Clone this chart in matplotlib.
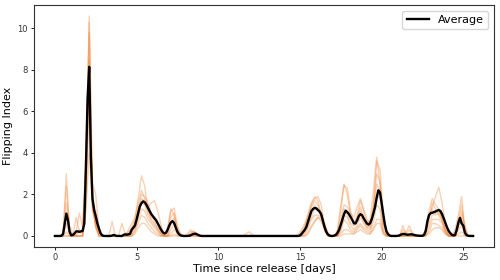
import matplotlib
matplotlib.use("Agg")
import matplotlib.pyplot as plt
import numpy as np

# sampling of the individual runs (every 0.2 days) and of the average (every 0.1 days)
member_days = np.round(np.arange(0.1, 25.6, 0.2), 1)
average_days = np.round(np.arange(0.0, 25.65, 0.1), 1)

member_a = [
    0, 0, 0.1, 3.0, 0.2, 0, 0.1, 0.3, 0.2, 3.5,
    10.6, 2.5, 2.0, 0.3, 0, 0, 0, 0, 0, 0,
    0, 0, 0.1, 0.4, 0.8, 1.8, 2.9, 2.4, 1.2, 0.8,
    0.6, 0.3, 0.1, 0, 0.4, 1.3, 1.0, 0.2, 0, 0,
    0.1, 0.3, 0.1, 0, 0, 0, 0, 0, 0, 0,
    0, 0, 0, 0, 0, 0, 0, 0, 0, 0,
    0, 0, 0, 0, 0, 0, 0, 0, 0, 0,
    0, 0, 0, 0, 0, 0.2, 0.5, 0.9, 1.5, 1.9,
    1.7, 1.0, 0.4, 0.1, 0, 0, 0.2, 1.2, 2.5, 2.0,
    1.0, 0.5, 0.8, 1.2, 0.7, 0.4, 0.5, 1.5, 3.6, 3.2,
    1.0, 0.2, 0, 0, 0, 0, 0.5, 0.1, 0, 0,
    0, 0, 0, 0.3, 1.2, 1.8, 1.5, 1.3, 0.8, 0.3,
    0.1, 0, 0.3, 1.0, 1.9, 0.3, 0, 0,
]
member_b = [
    0, 0, 0, 2.4, 0.3, 0, 0.9, 0.2, 0.3, 3.0,
    10.3, 1.8, 1.2, 0.4, 0, 0, 0, 0.7, 0, 0,
    0, 0, 0.3, 0.6, 0.9, 1.6, 2.2, 1.8, 1.4, 1.6,
    1.7, 1.2, 0.5, 0.1, 0.3, 1.2, 1.35, 0.5, 0.1, 0,
    0, 0.1, 0.25, 0.1, 0, 0, 0, 0, 0, 0,
    0, 0, 0, 0, 0, 0, 0, 0, 0, 0,
    0, 0, 0, 0, 0, 0, 0, 0, 0, 0,
    0, 0, 0, 0, 0, 0.1, 0.4, 1.1, 1.6, 1.8,
    1.9, 1.5, 0.6, 0.1, 0, 0, 0.3, 1.5, 2.45, 2.3,
    1.2, 0.6, 1.0, 1.7, 1.2, 0.6, 0.8, 2.2, 3.8, 2.5,
    0.8, 0.1, 0, 0, 0, 0, 0.1, 0.2, 0.5, 0.1,
    0, 0, 0, 0.2, 0.9, 1.4, 1.9, 2.35, 1.6, 0.6,
    0.1, 0, 0.2, 0.8, 1.5, 0.2, 0, 0,
]
member_c = [
    0, 0, 0, 1.6, 0.5, 0.1, 0.2, 1.1, 0.4, 4.0,
    9.8, 1.5, 0.8, 0.2, 0, 0, 0, 0, 0, 0,
    0.6, 0.1, 0.2, 0.3, 0.6, 1.3, 2.0, 1.9, 1.6, 1.1,
    0.7, 0.4, 0.1, 0, 0.1, 0.9, 1.1, 0.4, 0, 0,
    0, 0.2, 0.2, 0.05, 0, 0, 0, 0, 0, 0,
    0, 0, 0, 0, 0, 0, 0, 0, 0.1, 0.2,
    0.05, 0, 0, 0, 0, 0, 0, 0, 0, 0,
    0, 0, 0, 0, 0.1, 0.3, 0.6, 1.0, 1.4, 1.7,
    1.5, 1.1, 0.5, 0.1, 0, 0, 0.1, 0.8, 1.5, 1.4,
    1.1, 0.9, 1.4, 1.8, 1.3, 0.8, 0.6, 1.4, 3.0, 2.6,
    0.7, 0.1, 0, 0, 0, 0, 0, 0.1, 0.3, 0.1,
    0, 0, 0, 0.1, 0.8, 1.6, 1.3, 1.0, 0.7, 0.3,
    0, 0, 0.1, 0.6, 1.2, 0.5, 0, 0,
]
member_d = [
    0, 0, 0, 1.0, 0.2, 0, 0, 0.2, 0.1, 3.2,
    8.5, 1.2, 0.6, 0.1, 0, 0, 0, 0, 0, 0,
    0, 0, 0, 0.2, 0.7, 1.2, 1.8, 1.7, 1.2, 0.9,
    0.8, 0.6, 0.2, 0, 0, 0.6, 0.9, 0.3, 0, 0,
    0, 0, 0.1, 0, 0, 0, 0, 0, 0, 0,
    0, 0, 0, 0, 0, 0, 0, 0, 0, 0,
    0, 0, 0, 0, 0, 0, 0, 0, 0, 0,
    0, 0, 0, 0, 0, 0.1, 0.3, 0.7, 1.2, 1.5,
    1.3, 0.9, 0.3, 0, 0, 0, 0, 0.5, 1.3, 1.0,
    0.6, 0.5, 0.9, 1.4, 0.9, 0.5, 0.4, 1.3, 2.5, 2.2,
    0.6, 0, 0, 0, 0, 0, 0.3, 0.1, 0.1, 0,
    0, 0, 0, 0.2, 1.0, 1.3, 1.0, 1.1, 0.8, 0.2,
    0, 0, 0, 0.4, 1.0, 0.4, 0, 0,
]
member_e = [
    0, 0, 0, 0.6, 0.1, 0, 0, 0, 0, 2.6,
    8.0, 1.6, 0.4, 0, 0, 0, 0, 0, 0, 0,
    0, 0, 0, 0.1, 0.4, 1.0, 1.6, 1.5, 1.0, 0.7,
    0.5, 0.3, 0.1, 0, 0, 0.3, 0.6, 0.1, 0, 0,
    0, 0, 0.1, 0, 0, 0, 0, 0, 0, 0,
    0, 0, 0, 0, 0, 0, 0, 0, 0, 0,
    0, 0, 0, 0, 0, 0, 0, 0, 0, 0,
    0, 0, 0, 0, 0, 0, 0.2, 0.5, 0.9, 1.3,
    1.3, 1.0, 0.5, 0.1, 0, 0, 0, 0.3, 1.0, 0.9,
    0.5, 0.3, 0.5, 0.9, 0.6, 0.4, 0.3, 1.0, 2.0, 1.8,
    0.3, 0, 0, 0, 0, 0, 0, 0, 0, 0,
    0, 0, 0, 0.1, 0.6, 1.0, 1.1, 1.2, 0.9, 0.3,
    0, 0, 0.1, 0.5, 0.7, 0.2, 0, 0,
]
member_f = [
    0, 0, 0, 0.2, 0, 0, 0, 0, 0, 2.2,
    7.5, 1.3, 0.5, 0, 0, 0, 0, 0, 0, 0,
    0, 0, 0, 0, 0.3, 0.8, 1.3, 1.2, 0.8, 0.6,
    0.4, 0.2, 0, 0, 0, 0.1, 0.3, 0.1, 0, 0,
    0, 0, 0, 0, 0, 0, 0, 0, 0, 0,
    0, 0, 0, 0, 0, 0, 0, 0, 0, 0,
    0, 0, 0, 0, 0, 0, 0, 0, 0, 0,
    0, 0, 0, 0, 0, 0, 0.1, 0.4, 0.8, 1.0,
    1.0, 0.9, 0.6, 0.2, 0, 0, 0, 0.2, 0.8, 0.6,
    0.3, 0.2, 0.4, 0.6, 0.4, 0.3, 0.2, 0.7, 1.5, 1.3,
    0.2, 0, 0, 0, 0, 0, 0, 0, 0, 0,
    0, 0, 0, 0, 0.4, 0.8, 0.8, 0.8, 0.6, 0.2,
    0, 0, 0, 0.3, 0.5, 0.1, 0, 0,
]
member_g = [
    0, 0, 0, 0, 0, 0, 0, 0, 0, 1.5,
    6.5, 2.0, 0.6, 0, 0, 0, 0, 0, 0, 0,
    0, 0, 0, 0, 0.2, 0.6, 1.0, 0.9, 0.6, 0.4,
    0.2, 0.1, 0, 0, 0, 0, 0.1, 0, 0, 0,
    0, 0, 0, 0, 0, 0, 0, 0, 0, 0,
    0, 0, 0, 0, 0, 0, 0, 0, 0, 0,
    0, 0, 0, 0, 0, 0, 0, 0, 0, 0,
    0, 0, 0, 0, 0, 0, 0, 0.2, 0.5, 0.7,
    0.9, 0.8, 0.5, 0.1, 0, 0, 0, 0.1, 0.3, 0.3,
    0.2, 0.1, 0.3, 0.5, 0.3, 0.2, 0.1, 0.4, 0.8, 0.8,
    0.1, 0, 0, 0, 0, 0, 0, 0, 0, 0,
    0, 0, 0, 0, 0.2, 0.6, 0.6, 0.5, 0.4, 0.1,
    0, 0, 0, 0.1, 0.2, 0, 0, 0,
]
member_h = [
    0, 0, 0, 0, 0, 0, 0, 0, 0, 1.2,
    4.0, 1.5, 0.4, 0, 0, 0, 0, 0, 0, 0,
    0, 0, 0, 0, 0.1, 0.4, 0.6, 0.6, 0.4, 0.2,
    0.1, 0, 0, 0, 0, 0, 0, 0, 0, 0,
    0, 0, 0, 0, 0, 0, 0, 0, 0, 0,
    0, 0, 0, 0, 0, 0, 0, 0, 0, 0,
    0, 0, 0, 0, 0, 0, 0, 0, 0, 0,
    0, 0, 0, 0, 0, 0, 0, 0.1, 0.4, 0.7,
    0.9, 0.7, 0.3, 0, 0, 0, 0, 0, 0.1, 0.1,
    0.1, 0.1, 0.2, 0.3, 0.2, 0.1, 0.1, 0.3, 0.6, 0.6,
    0.1, 0, 0, 0, 0, 0, 0, 0, 0, 0,
    0, 0, 0, 0, 0.1, 0.3, 0.4, 0.4, 0.3, 0.1,
    0, 0, 0, 0, 0, 0, 0, 0,
]
members = [member_a, member_b, member_c, member_d,
           member_e, member_f, member_g, member_h]

average = [
    0, 0, 0, 0, 0.01, 0.1, 0.6, 1.08, 0.75, 0.2,
    0.03, 0.05, 0.12, 0.22, 0.22, 0.2, 0.22, 0.25, 0.6, 3.4,
    6.6, 8.15, 3.8, 1.8, 1.25, 0.95, 0.6, 0.35, 0.12, 0.03,
    0, 0, 0, 0, 0, 0.02, 0.05, 0.02, 0, 0,
    0, 0, 0.05, 0.08, 0.06, 0.08, 0.1, 0.3, 0.4, 0.5,
    0.78, 1.1, 1.43, 1.58, 1.67, 1.62, 1.5, 1.35, 1.19, 1.05,
    0.95, 0.85, 0.75, 0.6, 0.45, 0.3, 0.18, 0.12, 0.15, 0.3,
    0.5, 0.65, 0.72, 0.62, 0.4, 0.2, 0.08, 0.03, 0.01, 0,
    0, 0, 0.01, 0.03, 0.07, 0.1, 0.11, 0.08, 0.04, 0.01,
    0, 0, 0, 0, 0, 0, 0, 0, 0, 0,
    0, 0, 0, 0, 0, 0, 0, 0, 0, 0,
    0, 0, 0, 0, 0, 0, 0, 0, 0, 0,
    0, 0, 0, 0, 0, 0, 0, 0, 0, 0,
    0, 0, 0, 0, 0, 0, 0, 0, 0, 0,
    0, 0, 0, 0, 0, 0, 0, 0, 0, 0,
    0.02, 0.1, 0.2, 0.3, 0.45, 0.7, 0.95, 1.2, 1.3, 1.35,
    1.33, 1.25, 1.18, 1.05, 0.75, 0.45, 0.22, 0.08, 0.02, 0,
    0, 0.02, 0.05, 0.15, 0.3, 0.54, 0.8, 1.05, 1.22, 1.15,
    1.05, 0.92, 0.78, 0.62, 0.6, 0.75, 0.95, 1.05, 1.0, 0.85,
    0.72, 0.6, 0.55, 0.62, 0.82, 1.1, 1.4, 1.85, 2.2, 2.1,
    1.6, 1.05, 0.55, 0.22, 0.08, 0.02, 0, 0, 0, 0,
    0.01, 0.03, 0.07, 0.1, 0.09, 0.07, 0.06, 0.07, 0.08, 0.07,
    0.05, 0.03, 0.02, 0.01, 0.01, 0.01, 0.05, 0.25, 0.7, 1.0,
    1.1, 1.12, 1.15, 1.18, 1.22, 1.25, 1.2, 1.05, 0.85, 0.63,
    0.42, 0.25, 0.14, 0.06, 0.02, 0.05, 0.3, 0.65, 0.87, 0.6,
    0.5, 0.15, 0.04, 0.01, 0, 0, 0,
]

fig, ax = plt.subplots(figsize=(5, 2.8), dpi=100)
fig.subplots_adjust(left=0.068, right=0.988, top=0.982, bottom=0.118)

for run in members:
    ax.plot(member_days, run, color="#f07f2e", alpha=0.35, lw=1)
ax.plot(average_days, average, color="black", lw=1.7, label="Average")

ax.set_xlabel("Time since release [days]", fontsize=8, labelpad=1)
ax.set_ylabel("Flipping Index", fontsize=8, labelpad=3)
ax.set_xticks([0, 5, 10, 15, 20, 25])
ax.set_yticks([0, 2, 4, 6, 8, 10])
ax.tick_params(labelsize=6, length=2.5, width=0.6, pad=2, labelcolor="#333333")
for s in ax.spines.values():
    s.set_linewidth(0.8)
    s.set_color("#333333")
ax.legend(loc="upper right", fontsize=8)

fig.savefig("out.png")
